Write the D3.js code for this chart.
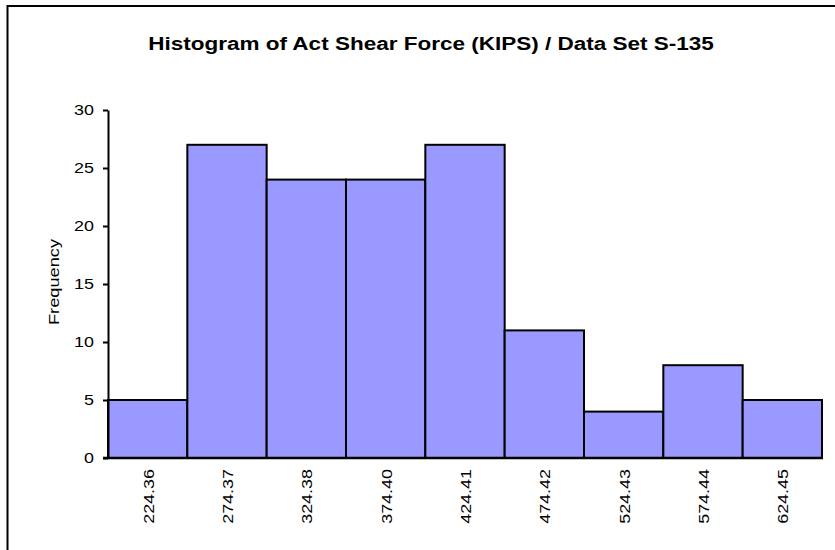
<!DOCTYPE html>
<html>
<head>
<meta charset="utf-8">
<script src="https://d3js.org/d3.v7.min.js"></script>
<style>
  body { margin: 0; background: #fff; }
  text { font-family: Arial, "Liberation Sans", sans-serif; fill: #000; }
</style>
</head>
<body>
<script>
// histogram bins (lower edges) and counts
let bins = ["224.36", "274.37", "324.38", "374.40", "424.41", "474.42", "524.43", "574.44", "624.45"];
let counts = [5, 27, 24, 24, 27, 11, 4, 8, 5];
let yTicks = [0, 5, 10, 15, 20, 25, 30];

let width = 835, height = 550;
let plotLeft = 108, plotRight = 822, plotTop = 110, plotBottom = 458;
let stretch = 1.28; // the original's text is drawn wide

// widen a text element along its own direction
function widen(sel, k) {
  sel.each(function() {
    let len = this.getComputedTextLength();
    d3.select(this).attr("textLength", len * k).attr("lengthAdjust", "spacingAndGlyphs");
  });
}

var svg = d3.select("body").append("svg").attr("width", width).attr("height", height);

// outer frame (runs off the right and bottom edge)
svg.append("rect")
  .attr("x", 7.5).attr("y", 6)
  .attr("width", 900).attr("height", 700)
  .attr("fill", "none").attr("stroke", "#000").attr("stroke-width", 2);

var x = d3.scaleBand().domain(bins).range([plotLeft, plotRight]).padding(0);
var y = d3.scaleLinear().domain([0, 30]).range([plotBottom, plotTop]);

// bars
svg.append("g").selectAll("rect")
  .data(counts)
  .enter().append("rect")
    .attr("x", function(d, i) { return x(bins[i]); })
    .attr("y", function(d) { return y(d); })
    .attr("width", x.bandwidth())
    .attr("height", function(d) { return plotBottom - y(d); })
    .attr("fill", "#9999ff")
    .attr("stroke", "#000")
    .attr("stroke-width", 2);

// y axis
var yAxis = svg.append("g")
  .attr("transform", "translate(" + plotLeft + ",0)")
  .call(d3.axisLeft(y).tickValues(yTicks).tickSize(5).tickSizeOuter(0));
yAxis.select(".domain").attr("stroke-width", 2);
yAxis.selectAll(".tick line").attr("stroke-width", 2);
yAxis.selectAll(".tick text")
  .attr("x", -14)
  .style("font-size", "14px")
  .style("font-family", "Arial, 'Liberation Sans', sans-serif")
  .call(widen, stretch);

// x axis baseline
svg.append("line")
  .attr("x1", plotLeft - 5).attr("x2", plotRight + 1)
  .attr("y1", plotBottom).attr("y2", plotBottom)
  .attr("stroke", "#000").attr("stroke-width", 2.5);

// x labels, rotated
svg.append("g").selectAll("text")
  .data(bins)
  .enter().append("text")
    .attr("transform", function(d) {
      return "translate(" + (x(d) + x.bandwidth() / 2 + 6) + "," + (plotBottom + 11) + ") rotate(-90)";
    })
    .attr("text-anchor", "end")
    .style("font-size", "14px")
    .text(function(d) { return d; })
    .call(widen, stretch);

// title
svg.append("text")
  .attr("x", 431).attr("y", 50)
  .attr("text-anchor", "middle")
  .style("font-size", "18px").style("font-weight", "bold")
  .text("Histogram of Act Shear Force (KIPS) / Data Set S-135")
  .call(widen, 1.25);

// y label
svg.append("text")
  .attr("transform", "translate(59," + 282 + ") rotate(-90)")
  .attr("text-anchor", "middle")
  .style("font-size", "14px")
  .text("Frequency")
  .call(widen, 1.3);
</script>
</body>
</html>
